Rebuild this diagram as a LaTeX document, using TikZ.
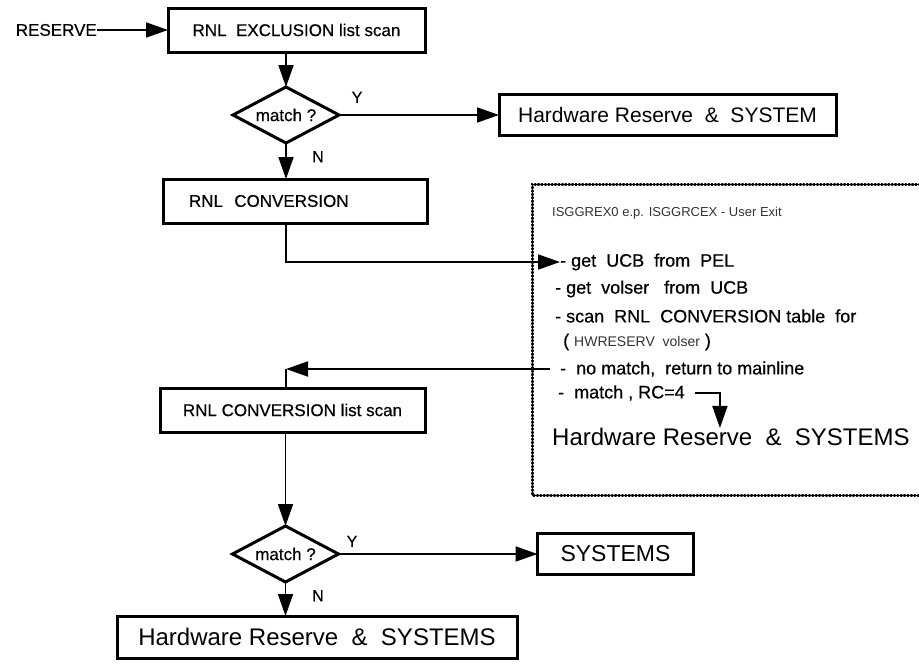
\documentclass[tikz,border=0pt]{standalone}
\usepackage{fontspec}
\setmainfont{Liberation Sans}
\newfontfamily\medfont{Liberation Sans}[FakeBold=0.5]
\usepackage{tikz}
\usetikzlibrary{shapes, shapes.geometric, arrows, arrows.meta, positioning, calc}
\newcommand{\fsz}[1]{\fontsize{#1}{#1}\selectfont}

\begin{document}
\begin{tikzpicture}[
        x=1pt, y=-1pt,
        node distance=35pt,
        font=\medfont\fsz{17},
        box/.style={rectangle, draw=black, line width=3pt, outer sep=0pt, minimum height=44pt, align=center, inner sep=0pt},
        bigbox/.style={rectangle, draw=black, line width=3pt, outer sep=0pt, minimum height=41pt, align=center, inner sep=0pt, font=\rmfamily\fsz{22}},
        decision/.style={diamond, draw=black, line width=3pt, outer sep=0pt, aspect=1.9, minimum width=106pt, minimum height=56pt, inner sep=0pt},
        yn/.style={inner sep=0pt, font=\medfont\fsz{16}},
        item/.style={inner sep=0pt, anchor=west, font=\medfont\fsz{18}},
        note/.style={inner sep=0pt, anchor=west, font=\rmfamily\fsz{13}, text=black!80},
        exitframe/.style={line width=3pt, dash pattern=on 0.8pt off 2.6pt, line cap=round},
        line/.style={line width=1.8pt},
        arrow/.style={line, -{Triangle[length=22pt, width=15pt]}}
    ]
        \useasboundingbox (0,0) rectangle (919,664);
        \clip (0,0) rectangle (919,664);
        % main line
        \node[box, minimum width=257pt] (excl) at (296.5,30) {RNL\ \ EXCLUSION list scan};
        \node[inner sep=0pt, left=71pt of excl] (reserve) {RESERVE};
        \node[decision, below=35pt of excl, xshift=-10.5pt] (match1) {match ?};
        \node[bigbox, minimum width=337pt, right=160pt of match1, font=\rmfamily\fsz{21}] (hrsys) {Hardware Reserve\ \ \&\ \ SYSTEM};
        \node[box, minimum width=264pt, below=36pt of match1, xshift=9pt, text width=212pt, align=left] (conv) {RNL\ \ CONVERSION};
        \node[yn, above right=12pt and 12.5pt of match1.east] (y1) {Y};
        \node[yn, below right=8pt and 26pt of match1.south] (n1) {N};
        % user exit
        \draw[exitframe] (930,184) -| (532,495) -- (930,495);
        \node[note] (hdr) at (552,213) {ISGGREX0 e.p. ISGGRCEX - User Exit};
        \node[item] (ucb) at (560,262) {- get\ \ UCB\ \ from\ \ PEL};
        \node[item] (volser) at (555,289) {- get\ \ volser\ \ \ from\ \ UCB};
        \node[item] (scantab) at (555,316) {- scan\ \ RNL\ \ CONVERSION table\ \ for};
        \node[item] (hwres) at (563,342) {( {\rmfamily\color{black!80}\fsz{14}HWRESERV\ \ volser} )};
        \node[item] (nomatch) at (560,369) {-\ \ no match,\ \ return to mainline};
        \node[item] (rc4) at (558,393) {-\ \ match , RC=4};
        \node[inner sep=0pt, anchor=west, font=\rmfamily\fsz{24}] (hrsys2) at (552,437) {Hardware Reserve\ \ \&\ \ SYSTEMS};
        \coordinate (rcturn) at ($(rc4.east)+(35pt,0)$);
        % second scan
        \node[box, minimum width=265pt, below=165pt of conv, xshift=-2.5pt] (convscan) {RNL CONVERSION list scan};
        \node[decision, below=94pt of convscan, xshift=-7pt] (match2) {match ?};
        \node[bigbox, minimum width=156pt, right=199pt of match2, font=\rmfamily\fsz{23}] (systems) {SYSTEMS};
        \node[bigbox, minimum width=400pt, minimum height=42pt, below=34pt of match2, xshift=31.5pt, font=\rmfamily\fsz{24}] (hrsys3) {Hardware Reserve\ \ \&\ \ SYSTEMS};
        \node[yn, above right=7pt and 8pt of match2.east] (y2) {Y};
        \node[yn, below right=8pt and 26.5pt of match2.south] (n2) {N};
        \coordinate (ret) at (match1 |- nomatch.west);
        % connectors
        \draw[arrow] (reserve) -- (excl);
        \draw[arrow] (match1 |- excl.south) -- (match1.north);
        \draw[arrow] (match1.east) -- (hrsys.west);
        \draw[arrow] (match1.south) -- (match1 |- conv.north);
        \draw[arrow] (match1 |- conv.south) |- (ucb.west);
        \draw[arrow] ([xshift=-10pt]nomatch.west) -- (ret);
        \draw[line] (ret) -- (ret |- convscan.north);
        \draw[arrow] ([xshift=10pt]rc4.east) -| (rcturn |- hrsys2.north);
        \draw[arrow] (match2 |- convscan.south) -- (match2.north);
        \draw[arrow] (match2.east) -- (systems.west);
        \draw[arrow] (match2.south) -- (match2.south |- hrsys3.north);
    \end{tikzpicture}
\end{document}
